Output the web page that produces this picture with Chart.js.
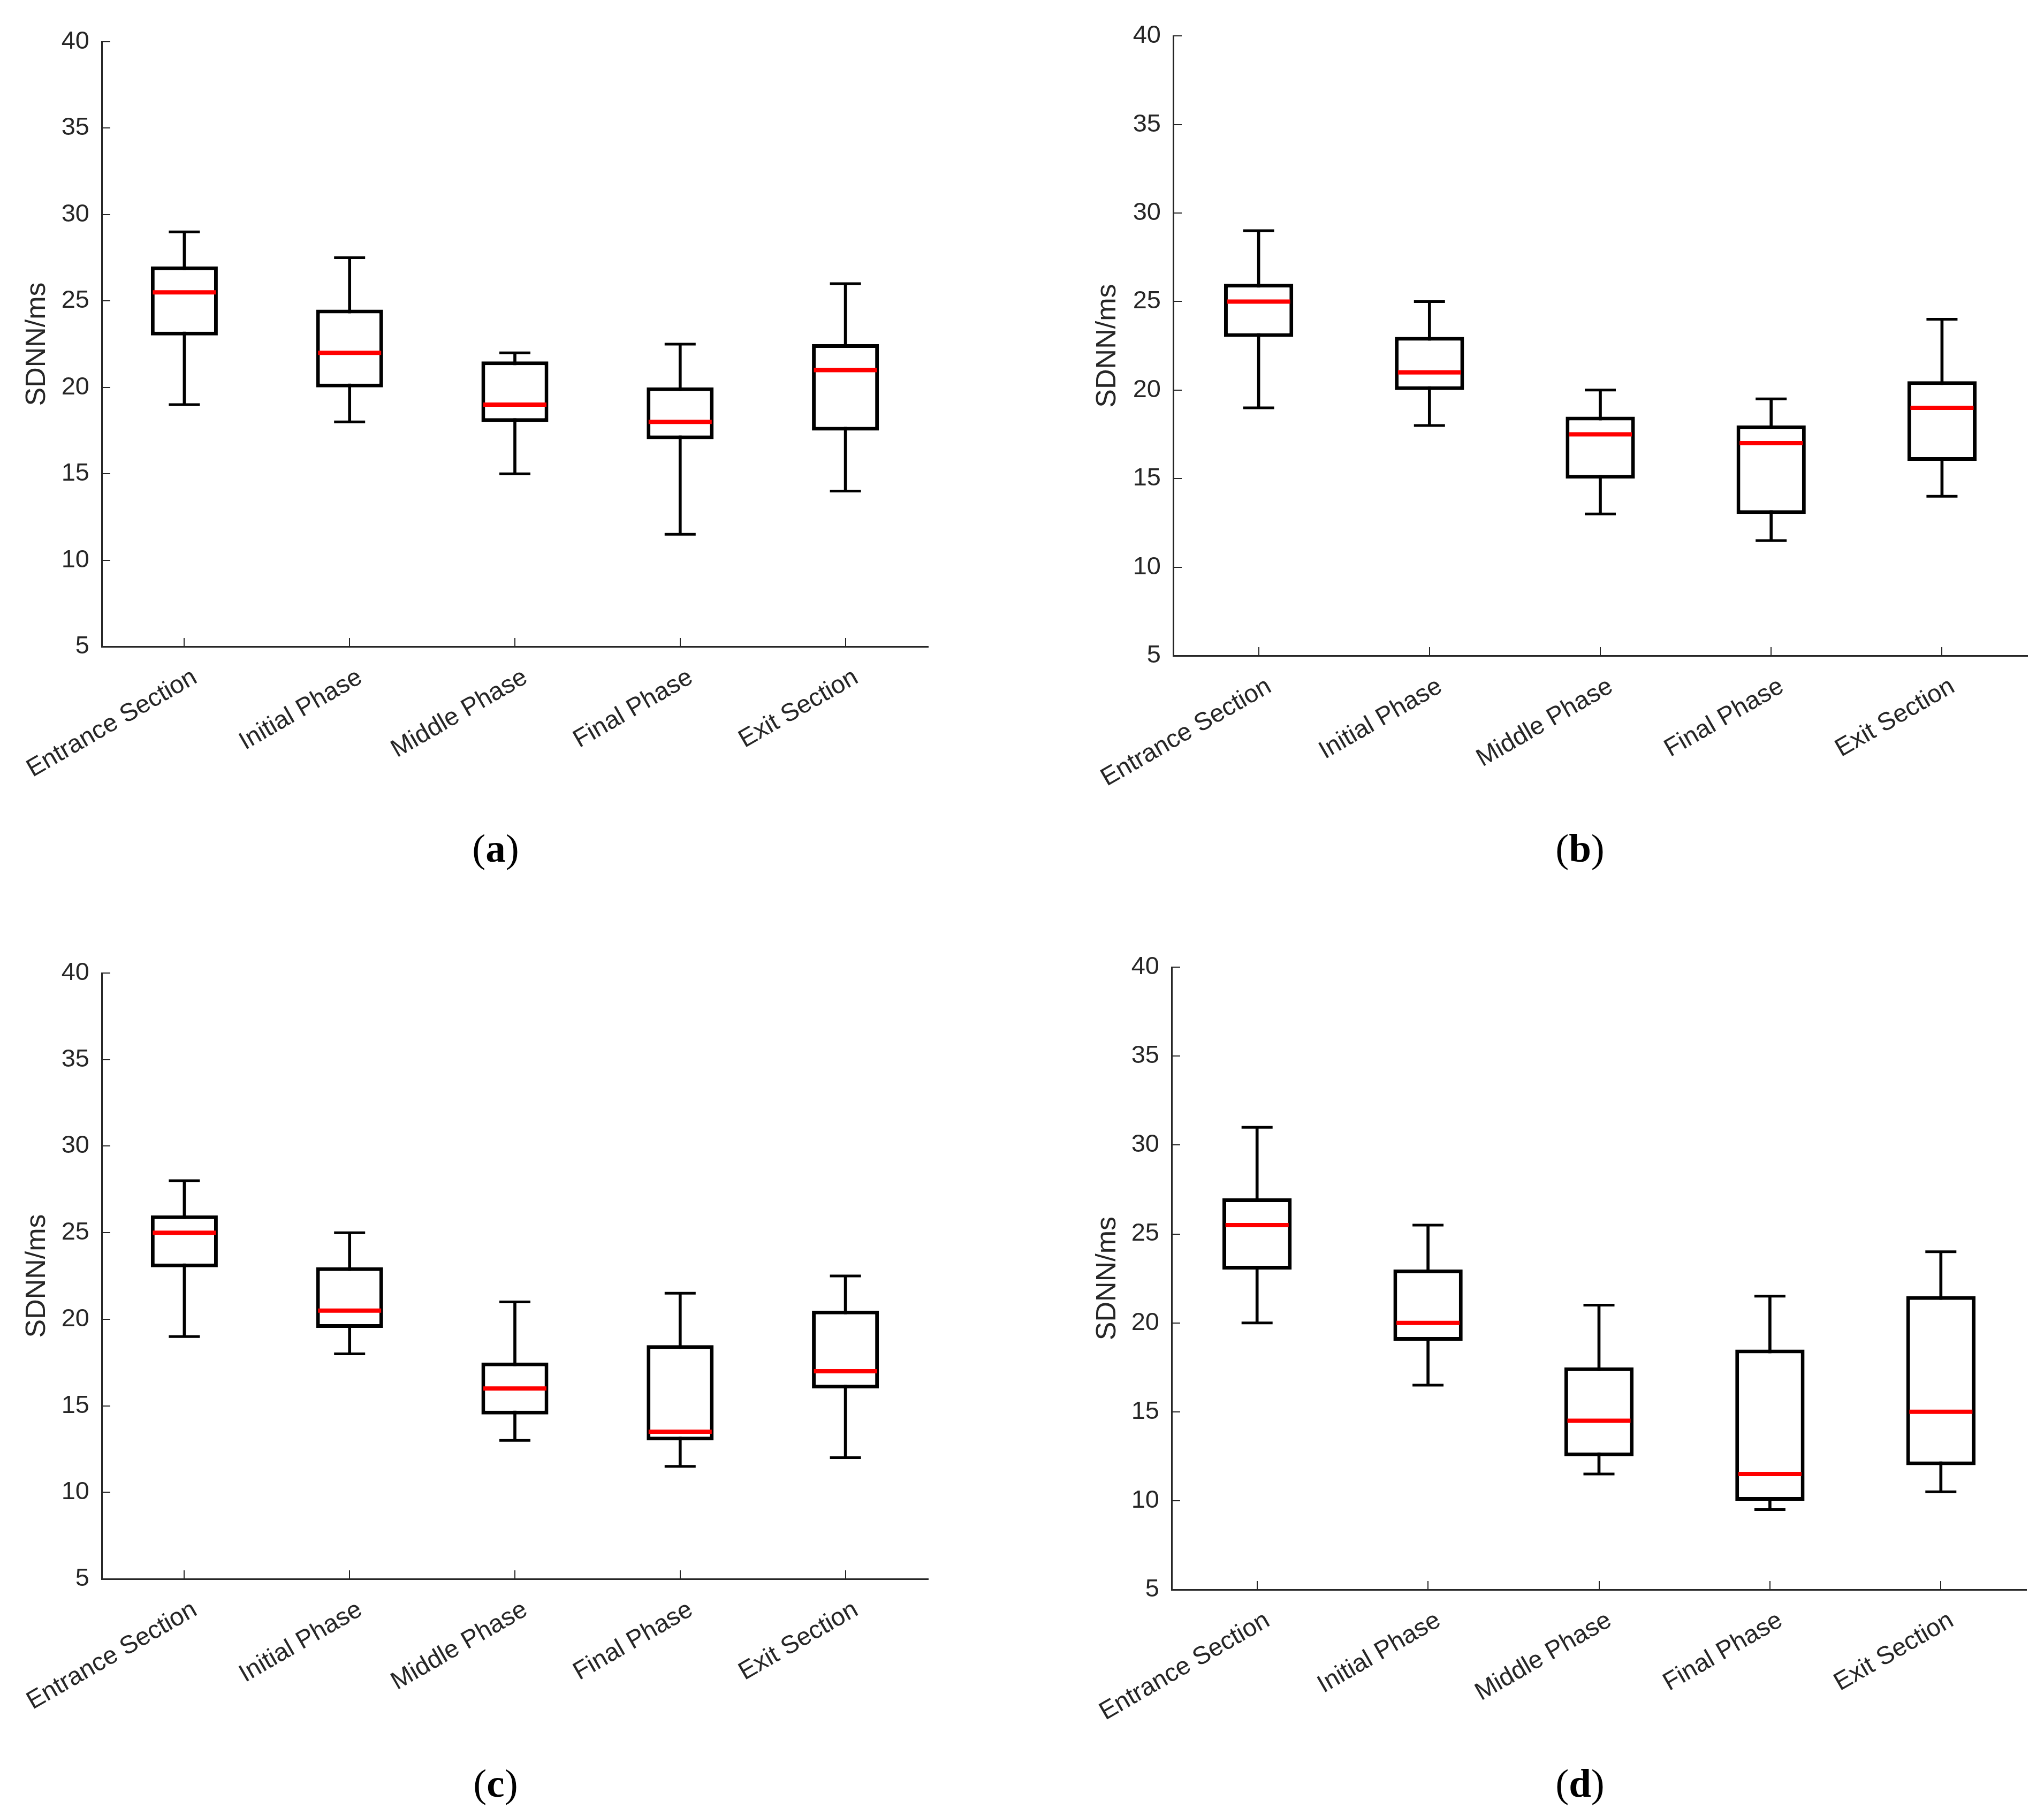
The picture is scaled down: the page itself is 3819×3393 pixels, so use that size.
<!DOCTYPE html>
<html>
<head>
<meta charset="utf-8">
<script src="https://cdn.jsdelivr.net/npm/chart.js@4.4.1/dist/chart.umd.min.js"></script>
<style>
  html, body { margin: 0; padding: 0; background: #fff; }
  body { width: 3819px; height: 3393px; position: relative; overflow: hidden; }
  .panel { position: absolute; }
  .caption {
    position: absolute;
    font-family: 'Liberation Serif', 'Times New Roman', serif;
    font-size: 75px;
    line-height: 1;
    color: #000;
    transform: translateX(-50%);
    white-space: nowrap;
  }
</style>
</head>
<body>
<div class="panel" style="left:0px;top:0px"><canvas id="chartA" width="1760" height="1508"></canvas></div>
<div class="panel" style="left:2000px;top:0px"><canvas id="chartB" width="1814" height="1525"></canvas></div>
<div class="panel" style="left:0px;top:1740px"><canvas id="chartC" width="1760" height="1510"></canvas></div>
<div class="panel" style="left:2000px;top:1740px"><canvas id="chartD" width="1812" height="1530"></canvas></div>

<div class="caption" style="left:926px;top:1547px">(<b>a</b>)</div>
<div class="caption" style="left:2952px;top:1547px">(<b>b</b>)</div>
<div class="caption" style="left:926px;top:3294px">(<b>c</b>)</div>
<div class="caption" style="left:2952px;top:3294px">(<b>d</b>)</div>

<script>
// categories and y ticks shared by all four panels
const categories = ['Entrance Section', 'Initial Phase', 'Middle Phase', 'Final Phase', 'Exit Section'];
const yTickValues = [5, 10, 15, 20, 25, 30, 35, 40];
const yTitle = 'SDNN/ms';

// (a)
const aMax = [29, 27.5, 22, 22.5, 26];
const aQ3 = [27, 24.5, 21.5, 20, 22.5];
const aMed = [25.5, 22, 19, 18, 21];
const aQ1 = [23, 20, 18, 17, 17.5];
const aMin = [19, 18, 15, 11.5, 14];

// (b)
const bMax = [29, 25, 20, 19.5, 24];
const bQ3 = [26, 23, 18.5, 18, 20.5];
const bMed = [25, 21, 17.5, 17, 19];
const bQ1 = [23, 20, 15, 13, 16];
const bMin = [19, 18, 13, 11.5, 14];

// (c)
const cMax = [28, 25, 21, 21.5, 22.5];
const cQ3 = [26, 23, 17.5, 18.5, 20.5];
const cMed = [25, 20.5, 16, 13.5, 17];
const cQ1 = [23, 19.5, 14.5, 13, 16];
const cMin = [19, 18, 13, 11.5, 12];

// (d)
const dMax = [31, 25.5, 21, 21.5, 24];
const dQ3 = [27, 23, 17.5, 18.5, 21.5];
const dMed = [25.5, 20, 14.5, 11.5, 15];
const dQ1 = [23, 19, 12.5, 10, 12];
const dMin = [20, 16.5, 11.5, 9.5, 10.5];

const axisColor = '#262626';
const fontFamily = "'Liberation Sans', Arial, Helvetica, sans-serif";

Chart.defaults.font.family = fontFamily;

function pairs(lo, hi) {
  return lo.map((v, i) => [v, hi[i]]);
}

function makeBoxChart(id, maxV, q3V, medV, q1V, minV, frame) {
  const ctx = document.getElementById(id).getContext('2d');

  const capStyle = {
    type: 'line',
    showLine: false,
    pointStyle: 'line',
    pointRadius: 29,
    pointBorderColor: '#000',
    pointBorderWidth: 5,
    order: 1
  };

  return new Chart(ctx, {
    type: 'bar',
    data: {
      labels: categories,
      datasets: [
        // median
        {
          type: 'line',
          data: medV,
          showLine: false,
          pointStyle: 'line',
          pointRadius: 59,
          pointBorderColor: '#ff0000',
          pointBorderWidth: 8,
          order: 0
        },
        // whisker caps
        Object.assign({ data: maxV }, capStyle),
        Object.assign({ data: minV }, capStyle),
        // box (Q1..Q3)
        {
          type: 'bar',
          data: pairs(q1V, q3V),
          backgroundColor: '#fff',
          borderColor: '#000',
          borderWidth: 7,
          borderSkipped: false,
          barPercentage: 0.405,
          categoryPercentage: 1,
          grouped: false,
          order: 2
        },
        // whisker line (min..max)
        {
          type: 'bar',
          data: pairs(minV, maxV),
          backgroundColor: '#000',
          borderWidth: 0,
          barThickness: 5,
          grouped: false,
          order: 3
        }
      ]
    },
    options: {
      responsive: false,
      animation: false,
      devicePixelRatio: 1,
      events: [],
      layout: {
        autoPadding: false,
        padding: { top: frame.top, right: 26, bottom: 0, left: 0 }
      },
      plugins: {
        legend: { display: false },
        tooltip: { enabled: false }
      },
      scales: {
        x: {
          grid: {
            offset: false,
            drawOnChartArea: false,
            drawTicks: true,
            tickLength: -16,
            color: axisColor,
            lineWidth: 2
          },
          border: { color: axisColor, width: 3 },
          ticks: {
            autoSkip: false,
            minRotation: 30,
            maxRotation: 30,
            padding: 46,
            labelOffset: 20,
            color: axisColor,
            font: { size: 47 }
          },
          afterFit: (scale) => {
            scale.height = 300;
            scale.paddingLeft = 0;
            scale.paddingRight = 0;
          }
        },
        y: {
          min: 5,
          max: 40,
          afterBuildTicks: (scale) => {
            scale.ticks = yTickValues.map(v => ({ value: v }));
          },
          grid: {
            drawOnChartArea: false,
            drawTicks: true,
            tickLength: -16,
            color: axisColor,
            lineWidth: 2
          },
          border: { color: axisColor, width: 3 },
          ticks: {
            padding: 39,
            color: axisColor,
            font: { size: 47 }
          },
          title: {
            display: true,
            text: yTitle,
            color: axisColor,
            font: { size: 52 },
            padding: { top: 38, bottom: 0 }
          },
          afterFit: (scale) => { scale.width = frame.yWidth; }
        }
      }
    }
  });
}

makeBoxChart('chartA', aMax, aQ3, aMed, aQ1, aMin, { top: 78, yWidth: 190 });
makeBoxChart('chartB', bMax, bQ3, bMed, bQ1, bMin, { top: 58, yWidth: 192 });
makeBoxChart('chartC', cMax, cQ3, cMed, cQ1, cMin, { top: 78, yWidth: 190 });
makeBoxChart('chartD', dMax, dQ3, dMed, dQ1, dMin, { top: 59, yWidth: 189 });
</script>
</body>
</html>
